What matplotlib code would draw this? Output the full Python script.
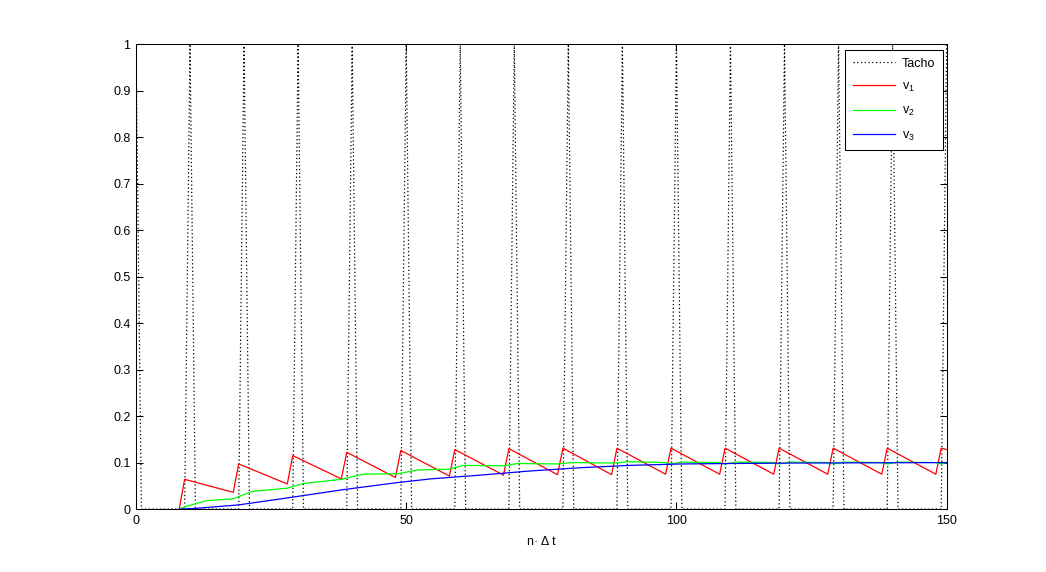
import matplotlib.pyplot as plt

plt.rcParams['font.family'] = ['Liberation Sans', 'DejaVu Sans']
plt.rcParams['mathtext.default'] = 'regular'

# Tacho pulses (samples of n)
tacho_n = [0, 1,
           9, 10, 11, 19, 20, 21, 29, 30, 31, 39, 40, 41, 49, 50, 51,
           59, 60, 61, 69, 70, 71, 79, 80, 81, 89, 90, 91, 99, 100, 101,
           109, 110, 111, 119, 120, 121, 129, 130, 131, 139, 140, 141,
           149, 150]
tacho = [1, 0,
         0, 1, 0, 0, 1, 0, 0, 1, 0, 0, 1, 0, 0, 1, 0,
         0, 1, 0, 0, 1, 0, 0, 1, 0, 0, 1, 0, 0, 1, 0,
         0, 1, 0, 0, 1, 0, 0, 1, 0, 0, 1, 0,
         0, 1]

# v1 (red sawtooth) - vertices
v1_n = [8, 9, 18, 19, 28, 29, 38, 39, 48, 49, 58, 59, 68, 69, 78, 79,
        88, 89, 98, 99, 108, 109, 118, 119, 128, 129, 138, 139, 148, 149, 150]
v1 = [0, 0.064, 0.036, 0.097, 0.054, 0.115, 0.065, 0.122, 0.068, 0.126,
      0.071, 0.128, 0.073, 0.130, 0.074, 0.131, 0.074, 0.131, 0.075, 0.131,
      0.075, 0.131, 0.075, 0.131, 0.075, 0.131, 0.075, 0.131, 0.075, 0.131, 0.128]

# v2 (green)
v2_n = [8, 9, 13, 18, 21.5, 28, 31, 38, 42, 48.5, 52, 58, 60.6, 68, 70.6,
        78, 80.6, 88.7, 91, 98, 99, 101, 108, 109, 111, 118, 119, 121,
        128, 129, 131, 138, 139, 141, 148, 149, 150]
v2 = [0, 0.005, 0.018, 0.022, 0.038, 0.045, 0.055, 0.064, 0.075, 0.076,
      0.084, 0.086, 0.094, 0.093, 0.098, 0.097, 0.100, 0.099, 0.102, 0.100,
      0.097, 0.101, 0.100, 0.097, 0.101, 0.100, 0.097, 0.101, 0.100, 0.097,
      0.101, 0.100, 0.097, 0.101, 0.100, 0.097, 0.100]

# v3 (blue)
v3_n = [8, 11, 19, 28.6, 38.5, 48.4, 54.6, 63.7, 73, 82.3, 91.5, 100.8,
        110, 122, 150]
v3 = [0, 0.0015, 0.009, 0.025, 0.042, 0.057, 0.065, 0.073, 0.082, 0.089,
      0.094, 0.097, 0.098, 0.099, 0.100]

fig = plt.figure(figsize=(10.46, 5.72), dpi=100)
ax = fig.add_axes([0.13, 0.11, 0.775, 0.813])

ax.plot(tacho_n, tacho, color='black', linestyle=(0, (1, 2)), linewidth=0.9, label='Tacho')
ax.plot(v1_n, v1, color='#ff0000', linewidth=0.9, label='v$_1$')
ax.plot(v2_n, v2, color='#00ff00', linewidth=0.9, label='v$_2$')
ax.plot(v3_n, v3, color='#0000ff', linewidth=0.9, label='v$_3$')

ax.set_xlim(0, 150)
ax.set_ylim(0, 1)
ax.set_xticks([0, 50, 100, 150])
ax.set_yticks([i / 10 for i in range(11)])
ax.set_yticklabels(['0', '0.1', '0.2', '0.3', '0.4', '0.5', '0.6', '0.7', '0.8', '0.9', '1'])
ax.tick_params(direction='in', length=5, width=0.75, top=True, right=True,
               labelsize=9, pad=4)
for s in ax.spines.values():
    s.set_linewidth(0.75)
ax.set_xlabel('n· Δ t', fontsize=9, labelpad=7)

leg = ax.legend(loc='upper right', bbox_to_anchor=(0.995, 0.987), borderaxespad=0,
                fontsize=9, handlelength=3.4, labelspacing=0.9, fancybox=False,
                framealpha=1, edgecolor='black', borderpad=0.6, handletextpad=0.5)
leg.get_frame().set_linewidth(0.75)

fig.savefig('out.png', dpi=100)
